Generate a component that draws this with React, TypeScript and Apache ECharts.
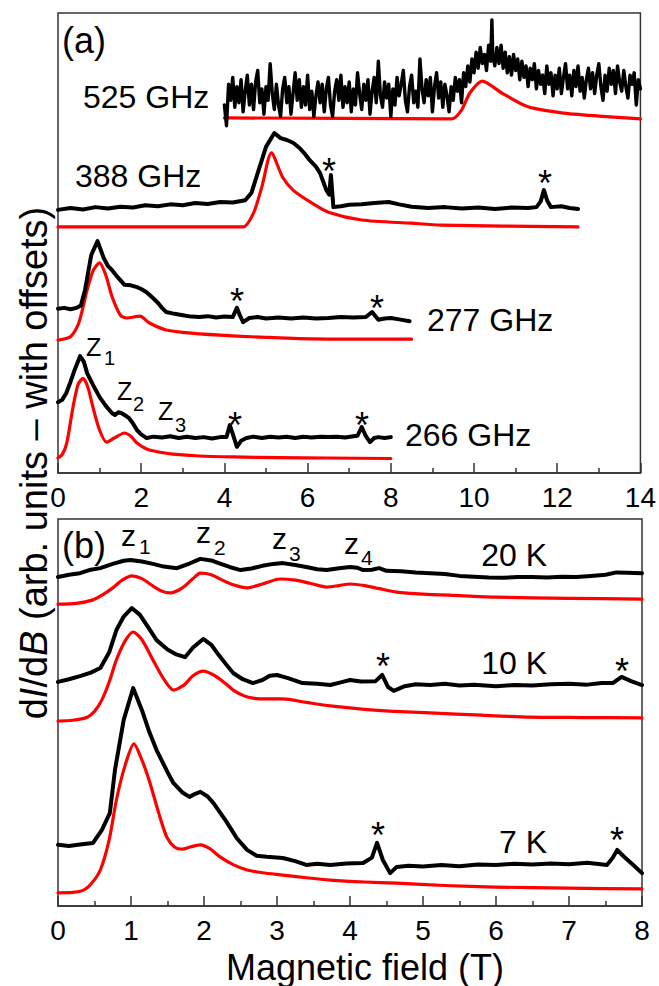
import React, { useEffect, useRef } from "react";
import * as echarts from "echarts";

const FONT = '"Liberation Sans", Arial, Helvetica, sans-serif';
const BLACK = "#000000";
const RED = "#ff0000";

// ---------- Panel (a): x = magnetic field (T), y = arb. units with offsets ----------
const exp266: number[][] = [
  [0, 15.4], [0.1, 15.9], [0.2, 17.4], [0.3, 19.8], [0.4, 22.4], [0.53, 25.4], [0.62, 24.2], [0.7, 21.7],
  [0.85, 19.0], [1.0, 16.5], [1.15, 14.6], [1.3, 13.0], [1.37, 12.6], [1.45, 13.2], [1.53, 13.0], [1.62, 12.5],
  [1.7, 12.0], [1.8, 10.8], [1.9, 9.3], [2.0, 8.4], [2.13, 7.6], [2.3, 7.9], [2.5, 7.7], [2.7, 8.0], [2.9, 7.6],
  [3.1, 7.9], [3.3, 7.6], [3.5, 7.8], [3.7, 7.5], [3.9, 7.8], [4.05, 7.8], [4.13, 10.4], [4.2, 8.5], [4.3, 5.7],
  [4.4, 7.0], [4.53, 7.6], [4.7, 7.9], [4.9, 7.6], [5.1, 7.9], [5.3, 7.7], [5.5, 7.9], [5.7, 7.6], [5.9, 7.9],
  [6.1, 7.7], [6.3, 7.9], [6.5, 7.8], [6.7, 7.9], [6.9, 7.7], [7.1, 8.0], [7.2, 8.1], [7.3, 10.0], [7.4, 8.0],
  [7.5, 6.7], [7.6, 7.6], [7.7, 7.8], [7.85, 7.6], [8.0, 7.8],
];
const fit266: number[][] = [
  [0, 3.3], [0.1, 4.0], [0.21, 6.5], [0.36, 14.3], [0.48, 19.2], [0.6, 20.6], [0.72, 18.6], [0.84, 14.3],
  [1.0, 9.3], [1.17, 6.7], [1.35, 7.6], [1.6, 8.7], [1.75, 8.0], [1.9, 6.5], [2.13, 5.2], [2.45, 4.5],
  [2.76, 4.1], [3.4, 3.7], [4.2, 3.5], [5.3, 3.35], [6.5, 3.26], [8.0, 3.15],
];
const exp277: number[][] = [
  [0, 35.7], [0.15, 35.9], [0.3, 35.6], [0.45, 35.9], [0.55, 36.4], [0.65, 39.8], [0.8, 47.4], [0.95, 50.4],
  [1.1, 46.7], [1.2, 45.0], [1.3, 44.1], [1.45, 42.4], [1.6, 40.9], [1.75, 40.8], [1.9, 40.4], [2.0, 40.0],
  [2.13, 39.3], [2.25, 38.3], [2.4, 37.0], [2.5, 35.9], [2.6, 35.0], [2.8, 34.6], [3.0, 34.3], [3.2, 34.0],
  [3.4, 33.9], [3.6, 34.1], [3.8, 33.8], [4.0, 34.0], [4.2, 33.9], [4.3, 35.9], [4.38, 34.1], [4.45, 32.8],
  [4.6, 33.7], [4.8, 33.9], [5.0, 33.6], [5.3, 33.8], [5.6, 33.6], [5.9, 33.8], [6.2, 33.6], [6.5, 33.7],
  [6.8, 33.9], [7.1, 33.8], [7.4, 33.9], [7.55, 35.0], [7.7, 33.3], [7.85, 33.6], [8.0, 33.7], [8.2, 33.4],
  [8.45, 33.0],
];
const fit277: number[][] = [
  [0, 28.9], [0.3, 29.6], [0.5, 32.6], [0.7, 39.8], [0.85, 44.1], [1.0, 45.7], [1.15, 43.0], [1.3, 38.3],
  [1.5, 34.3], [1.65, 33.7], [1.97, 34.1], [2.2, 32.6], [2.6, 31.1], [3.2, 30.4], [4.2, 29.8], [5.5, 29.3],
  [6.5, 29.1], [8.5, 29.1],
];
const exp388: number[][] = [
  [0, 57.2], [0.3, 57.6], [0.6, 57.3], [0.9, 57.8], [1.2, 57.5], [1.5, 57.9], [1.8, 57.7], [2.1, 58.2],
  [2.4, 58.0], [2.7, 58.4], [3.0, 58.2], [3.3, 58.7], [3.6, 58.5], [3.9, 58.9], [4.2, 58.8], [4.5, 59.3],
  [4.65, 60.9], [4.8, 65.2], [5.0, 70.9], [5.2, 73.9], [5.35, 72.8], [5.5, 72.4], [5.65, 71.8], [5.8, 70.7],
  [5.95, 69.2], [6.05, 68.0], [6.2, 66.6], [6.3, 65.2], [6.45, 61.5], [6.52, 60.5], [6.56, 64.8], [6.62, 57.8],
  [6.8, 58.0], [7.0, 58.3], [7.3, 58.4], [7.6, 58.7], [7.95, 58.9], [8.2, 58.4], [8.5, 57.9], [8.9, 57.6],
  [9.3, 57.8], [9.7, 57.5], [10.1, 57.7], [10.5, 57.4], [10.9, 57.7], [11.3, 57.6], [11.5, 57.8], [11.6, 59.0],
  [11.68, 61.5], [11.76, 59.2], [11.85, 57.8], [12.1, 58.0], [12.3, 57.6], [12.5, 57.4],
];
const fit388: number[][] = [
  [0, 53.5], [4.45, 53.5], [4.7, 56.5], [4.9, 62.2], [5.13, 69.6], [5.4, 64.3], [5.65, 61.5], [6.1, 58.7],
  [6.5, 56.7], [7.3, 55.0], [8.5, 54.3], [9.2, 53.9], [12.5, 53.5],
];
const exp525: number[][] = [
  [4.00, 80.0], [4.05, 75.5], [4.10, 84.5], [4.15, 81.0], [4.20, 86.0], [4.25, 79.5], [4.30, 84.0], [4.35, 80.5],
  [4.40, 85.5], [4.45, 78.5], [4.50, 83.0], [4.55, 86.5], [4.60, 80.0], [4.65, 84.5], [4.70, 79.0], [4.75, 85.0],
  [4.80, 87.5], [4.85, 80.5], [4.90, 83.5], [4.95, 78.0], [5.00, 84.0], [5.05, 81.0], [5.10, 89.0], [5.15, 82.5],
  [5.20, 79.0], [5.25, 84.5], [5.30, 80.0], [5.35, 77.5], [5.40, 83.5], [5.45, 86.0], [5.50, 80.5], [5.55, 84.0],
  [5.60, 78.0], [5.65, 82.5], [5.70, 87.0], [5.75, 81.0], [5.80, 85.5], [5.85, 79.5], [5.90, 84.0], [5.95, 80.0],
  [6.00, 86.5], [6.05, 79.0], [6.10, 83.0], [6.15, 77.5], [6.20, 82.0], [6.25, 85.0], [6.30, 80.5], [6.35, 84.5],
  [6.40, 78.5], [6.45, 83.5], [6.50, 86.0], [6.55, 80.0], [6.60, 77.5], [6.65, 83.0], [6.70, 85.5], [6.75, 81.0],
  [6.80, 86.5], [6.85, 79.5], [6.90, 84.0], [6.95, 80.5], [7.00, 85.0], [7.05, 78.5], [7.10, 83.5], [7.15, 80.0],
  [7.20, 87.0], [7.25, 82.5], [7.30, 79.0], [7.35, 84.5], [7.40, 81.0], [7.45, 85.5], [7.50, 78.0], [7.55, 83.0],
  [7.60, 86.0], [7.65, 80.5], [7.70, 89.5], [7.75, 82.0], [7.80, 79.5], [7.85, 85.0], [7.90, 81.5], [7.95, 84.5],
  [8.00, 77.5], [8.05, 83.5], [8.10, 80.0], [8.15, 86.0], [8.20, 82.0], [8.25, 84.5], [8.30, 87.5], [8.35, 81.0],
  [8.40, 78.5], [8.45, 84.0], [8.50, 86.5], [8.55, 80.5], [8.60, 83.0], [8.65, 79.5], [8.70, 90.0], [8.75, 83.5],
  [8.80, 80.5], [8.85, 85.5], [8.90, 82.0], [8.95, 86.0], [9.00, 78.5], [9.05, 84.0], [9.10, 87.0], [9.15, 81.5],
  [9.20, 85.0], [9.25, 79.5], [9.30, 84.5], [9.35, 82.0], [9.40, 78.5], [9.45, 84.0], [9.50, 81.0], [9.55, 86.0],
  [9.60, 83.0], [9.65, 85.5], [9.70, 80.5], [9.75, 87.0], [9.80, 84.0], [9.85, 88.5], [9.90, 85.0], [9.95, 90.0],
  [10.00, 87.0], [10.05, 91.5], [10.10, 88.0], [10.15, 92.5], [10.20, 89.0], [10.25, 91.0], [10.30, 87.5],
  [10.35, 93.0], [10.40, 89.5], [10.43, 98.5], [10.45, 91.0], [10.50, 88.5], [10.55, 92.5], [10.60, 89.0],
  [10.65, 93.0], [10.70, 88.0], [10.75, 91.5], [10.80, 87.0], [10.85, 90.5], [10.90, 86.5], [10.95, 91.0],
  [11.00, 87.5], [11.05, 90.0], [11.10, 85.5], [11.15, 89.5], [11.20, 86.0], [11.25, 88.5], [11.30, 84.0],
  [11.35, 88.0], [11.40, 85.5], [11.45, 89.0], [11.50, 83.5], [11.55, 87.5], [11.60, 84.5], [11.65, 86.5],
  [11.70, 82.5], [11.75, 88.5], [11.80, 84.5], [11.85, 87.0], [11.90, 82.0], [11.95, 86.5], [12.00, 83.5],
  [12.05, 88.0], [12.10, 82.5], [12.15, 86.0], [12.20, 89.0], [12.25, 83.5], [12.30, 86.5], [12.35, 82.0],
  [12.40, 87.5], [12.45, 84.0], [12.50, 88.5], [12.55, 83.0], [12.60, 86.0], [12.65, 81.5], [12.70, 85.5],
  [12.75, 88.0], [12.80, 83.5], [12.85, 87.0], [12.90, 82.5], [12.95, 86.5], [13.00, 89.0], [13.05, 84.0],
  [13.10, 81.0], [13.15, 86.5], [13.20, 83.0], [13.25, 88.0], [13.30, 84.5], [13.35, 87.5], [13.40, 82.5],
  [13.45, 88.5], [13.50, 85.0], [13.55, 83.0], [13.60, 87.5], [13.65, 84.0], [13.70, 81.5], [13.75, 86.5],
  [13.80, 84.5], [13.85, 87.0], [13.90, 80.0], [13.95, 85.5], [14.00, 83.5],
];
const fit525: number[][] = [
  [4.0, 77.2], [9.47, 77.0], [9.7, 78.9], [9.9, 82.6], [10.2, 85.2], [10.67, 82.6], [11.3, 79.6],
  [12.1, 78.3], [13.0, 77.6], [14.0, 77.0],
];

// ---------- Panel (b) ----------
const exp20K: number[][] = [
  [0, 85.0], [0.15, 85.6], [0.3, 86.0], [0.45, 86.9], [0.58, 87.3], [0.75, 88.4], [0.9, 89.2], [0.99, 89.4],
  [1.15, 89.0], [1.3, 88.4], [1.45, 87.7], [1.63, 87.3], [1.8, 88.5], [1.95, 89.7], [2.1, 89.3], [2.2, 88.6],
  [2.35, 87.6], [2.5, 86.8], [2.65, 87.2], [2.8, 87.9], [2.95, 88.4], [3.08, 88.6], [3.25, 88.1], [3.4, 87.6],
  [3.55, 87.0], [3.68, 86.8], [3.85, 87.3], [4.0, 87.6], [4.1, 87.4], [4.18, 86.8], [4.3, 86.9], [4.4, 87.3],
  [4.5, 86.6], [4.7, 86.5], [4.9, 86.2], [5.1, 86.0], [5.3, 85.8], [5.5, 85.3], [5.7, 85.1], [5.9, 84.9],
  [6.1, 84.8], [6.3, 85.0], [6.5, 85.0], [6.7, 84.9], [6.9, 85.1], [7.1, 85.0], [7.3, 85.3], [7.5, 85.6],
  [7.65, 86.2], [7.8, 86.1], [8.0, 86.0],
];
const fit20K: number[][] = [
  [0, 78.0], [0.25, 78.2], [0.48, 79.1], [0.62, 80.5], [0.75, 82.2], [0.88, 84.2], [1.01, 85.3], [1.15, 84.6],
  [1.3, 82.7], [1.43, 81.3], [1.53, 80.9], [1.65, 81.6], [1.75, 82.9], [1.85, 84.6], [1.95, 86.0], [2.1, 85.6],
  [2.25, 84.2], [2.4, 83.0], [2.59, 82.2], [2.8, 83.2], [3.04, 84.5], [3.25, 84.2], [3.45, 83.4], [3.68, 82.4],
  [3.85, 82.8], [4.0, 83.2], [4.2, 82.8], [4.4, 82.0], [4.64, 81.1], [5.0, 80.6], [5.5, 80.2], [6.0, 79.8],
  [7.0, 79.5], [8.0, 79.3],
];
const exp10K: number[][] = [
  [0, 57.9], [0.15, 58.6], [0.3, 59.4], [0.45, 60.3], [0.58, 61.5], [0.7, 65.5], [0.8, 71.3], [0.9, 74.8],
  [1.01, 77.0], [1.12, 75.3], [1.25, 71.6], [1.35, 68.7], [1.5, 66.3], [1.62, 65.0], [1.74, 64.3], [1.85, 66.8],
  [1.99, 69.0], [2.1, 67.5], [2.2, 64.9], [2.3, 62.5], [2.4, 60.2], [2.53, 58.6], [2.67, 57.6], [2.8, 58.4],
  [2.9, 59.5], [3.0, 59.7], [3.15, 58.9], [3.35, 57.6], [3.55, 57.4], [3.73, 57.1], [3.9, 57.9], [4.0, 58.4],
  [4.15, 58.0], [4.35, 58.1], [4.44, 59.7], [4.52, 56.6], [4.6, 55.6], [4.75, 56.8], [4.9, 57.3], [5.1, 57.1],
  [5.3, 57.4], [5.5, 57.0], [5.7, 57.2], [6.0, 56.8], [6.25, 57.1], [6.5, 57.0], [6.75, 57.3], [7.0, 57.4],
  [7.25, 57.2], [7.45, 57.6], [7.6, 57.6], [7.72, 59.2], [7.85, 58.1], [8.0, 57.1],
];
const fit10K: number[][] = [
  [0, 47.8], [0.2, 48.0], [0.4, 48.8], [0.5, 50.3], [0.6, 53.2], [0.7, 57.8], [0.8, 63.6], [0.92, 68.5],
  [1.03, 70.8], [1.15, 68.8], [1.3, 63.6], [1.45, 58.6], [1.58, 55.8], [1.72, 57.0], [1.85, 59.5], [1.99, 60.7],
  [2.15, 59.5], [2.3, 57.4], [2.4, 55.8], [2.55, 54.3], [2.67, 53.7], [2.85, 53.5], [3.08, 53.5], [3.4, 52.6],
  [3.73, 51.7], [4.2, 50.8], [4.6, 50.3], [5.1, 49.9], [5.8, 49.3], [6.47, 48.8], [7.2, 48.7], [8.0, 48.6],
];
const exp7K: number[][] = [
  [0, 15.8], [0.15, 15.5], [0.3, 15.9], [0.48, 16.3], [0.6, 19.6], [0.71, 24.0], [0.78, 35.1], [0.9, 48.1],
  [1.03, 56.3], [1.15, 50.6], [1.25, 45.0], [1.35, 40.3], [1.5, 34.6], [1.58, 31.8], [1.7, 29.4], [1.8, 28.2],
  [1.88, 29.0], [1.95, 29.5], [2.05, 28.3], [2.13, 26.6], [2.3, 22.0], [2.45, 17.5], [2.59, 14.5], [2.72, 13.0],
  [2.86, 12.7], [3.08, 12.4], [3.25, 11.6], [3.4, 10.6], [3.55, 10.9], [3.73, 10.6], [3.95, 11.0], [4.18, 11.1],
  [4.3, 12.5], [4.37, 16.3], [4.45, 11.9], [4.55, 8.5], [4.64, 10.1], [4.8, 10.4], [5.0, 10.2], [5.25, 10.6],
  [5.5, 10.3], [5.75, 10.7], [6.0, 10.6], [6.25, 10.9], [6.5, 10.7], [6.75, 11.0], [7.0, 10.8], [7.25, 11.2],
  [7.52, 10.6], [7.6, 12.5], [7.66, 14.5], [7.75, 12.8], [7.88, 10.6], [8.0, 8.5],
];
const fit7K: number[][] = [
  [0, 3.4], [0.2, 3.5], [0.35, 4.1], [0.45, 5.6], [0.58, 9.3], [0.7, 17.0], [0.8, 27.4], [0.92, 36.4],
  [1.04, 41.9], [1.15, 37.7], [1.26, 31.8], [1.38, 24.0], [1.49, 17.8], [1.6, 15.2], [1.7, 14.7], [1.82, 15.3],
  [1.95, 15.8], [2.08, 14.8], [2.22, 12.7], [2.4, 10.7], [2.59, 9.3], [2.8, 8.6], [3.08, 8.0], [3.4, 7.3],
  [3.73, 6.7], [4.2, 6.2], [4.64, 5.9], [5.3, 5.3], [6.0, 4.9], [7.0, 4.6], [8.0, 4.4],
];

const axisColor = "#333333";

function line(data: number[][], color: string, idx: number, smooth: number, width: number) {
  return {
    type: "line",
    data,
    xAxisIndex: idx,
    yAxisIndex: idx,
    showSymbol: false,
    symbol: "none",
    smooth,
    silent: true,
    clip: true,
    z: color === RED ? 2 : 3,
    lineStyle: { color, width, join: "round", cap: "round" },
  };
}

function txt(text: string, x: number, y: number, size: number, align = "left", extra: any = {}) {
  return {
    type: "text",
    x,
    y,
    silent: true,
    z: 10,
    style: {
      text,
      fill: "#000",
      fontSize: size,
      fontFamily: FONT,
      align,
      verticalAlign: "middle",
      textAlign: align,
      textVerticalAlign: "middle",
      ...extra,
    },
  };
}

function xAxisCfg(gridIndex: number, max: number, interval: number) {
  return {
    type: "value",
    gridIndex,
    min: 0,
    max,
    interval,
    axisLine: { show: true, onZero: false, lineStyle: { color: axisColor, width: 1.5 } },
    axisTick: { show: true, inside: true, length: 10, lineStyle: { color: axisColor, width: 1.5 } },
    minorTick: { show: true, splitNumber: 2, length: 5, lineStyle: { color: axisColor, width: 1.5 } },
    axisLabel: { show: true, color: "#000", fontSize: 28, fontFamily: FONT, margin: 10, showMinLabel: true, showMaxLabel: true },
    splitLine: { show: false },
    minorSplitLine: { show: false },
  };
}

const STAR = 36;
const starOff = 8;
const stars: number[][] = [
  [329, 163], [545, 175], [237, 293], [377, 300], [235, 417], [362, 417],
  [383, 658], [622, 663], [378, 827], [617, 832],
];

export default function App() {
  const ref = useRef<HTMLDivElement>(null);
  useEffect(() => {
    const chart = echarts.init(ref.current as HTMLDivElement, null, { renderer: "svg" });
    const graphic: any[] = [
      txt("(a)", 62, 40, 36),
      txt("(b)", 62, 545, 36),
      txt("525 GHz", 83, 97, 32),
      txt("388 GHz", 75, 176, 32),
      txt("277 GHz", 427, 320, 32),
      txt("266 GHz", 405, 435, 32),
      txt("20 K", 547, 555, 32, "right"),
      txt("10 K", 547, 663, 32, "right"),
      txt("7 K", 547, 842, 32, "right"),
      // panel (a) Z labels
      txt("Z", 86, 347, 25), txt("1", 104, 358, 20),
      txt("Z", 117, 391, 25), txt("2", 133, 404, 20),
      txt("Z", 158, 411, 25), txt("3", 175, 425, 20),
      // panel (b) z labels
      txt("z", 121, 535, 30), txt("1", 139, 546, 21),
      txt("z", 196, 532, 30), txt("2", 214, 547, 21),
      txt("z", 272, 538, 30), txt("3", 289, 553, 21),
      txt("z", 344, 543, 30), txt("4", 361, 557, 21),
      // axis titles
      txt("Magnetic field (T)", 365, 967, 36, "center"),
      {
        type: "text",
        x: 34,
        y: 463,
        rotation: Math.PI / 2,
        silent: true,
        z: 10,
        style: {
          text: "d{i|I}/d{i|B} (arb. units \u2013 with offsets)",
          fill: "#000",
          fontSize: 38,
          fontFamily: FONT,
          align: "center",
          verticalAlign: "middle",
          textAlign: "center",
          textVerticalAlign: "middle",
          rich: { i: { fontStyle: "italic", fontSize: 38, fontFamily: FONT, fill: "#000" } },
        },
      },
    ];
    stars.forEach(([x, y]) => graphic.push(txt("*", x, y + starOff, STAR, "center")));

    const BW = 4;
    const RW = 3.2;
    chart.setOption({
      animation: false,
      backgroundColor: "#ffffff",
      grid: [
        { left: 58, top: 13, width: 584, height: 460, show: true, borderColor: axisColor, borderWidth: 1.5, containLabel: false },
        { left: 58, top: 519, width: 584, height: 387, show: true, borderColor: axisColor, borderWidth: 1.5, containLabel: false },
      ],
      xAxis: [xAxisCfg(0, 14, 2), xAxisCfg(1, 8, 1)],
      yAxis: [
        { type: "value", gridIndex: 0, min: 0, max: 100, show: false },
        { type: "value", gridIndex: 1, min: 0, max: 100, show: false },
      ],
      series: [
        line(fit525, RED, 0, 0.25, RW), line(exp525, BLACK, 0, 0, 3.4),
        line(fit388, RED, 0, 0.25, RW), line(exp388, BLACK, 0, 0, BW),
        line(fit277, RED, 0, 0.25, RW), line(exp277, BLACK, 0, 0, BW),
        line(fit266, RED, 0, 0.25, RW), line(exp266, BLACK, 0, 0, BW),
        line(fit20K, RED, 1, 0.25, RW), line(exp20K, BLACK, 1, 0, BW),
        line(fit10K, RED, 1, 0.25, RW), line(exp10K, BLACK, 1, 0, BW),
        line(fit7K, RED, 1, 0.25, RW), line(exp7K, BLACK, 1, 0, BW),
      ],
      graphic,
    });
    return () => chart.dispose();
  }, []);
  return (
    <div
      ref={ref}
      style={{ position: "absolute", left: 0, top: 0, width: 659, height: 986, background: "#fff" }}
    />
  );
}
